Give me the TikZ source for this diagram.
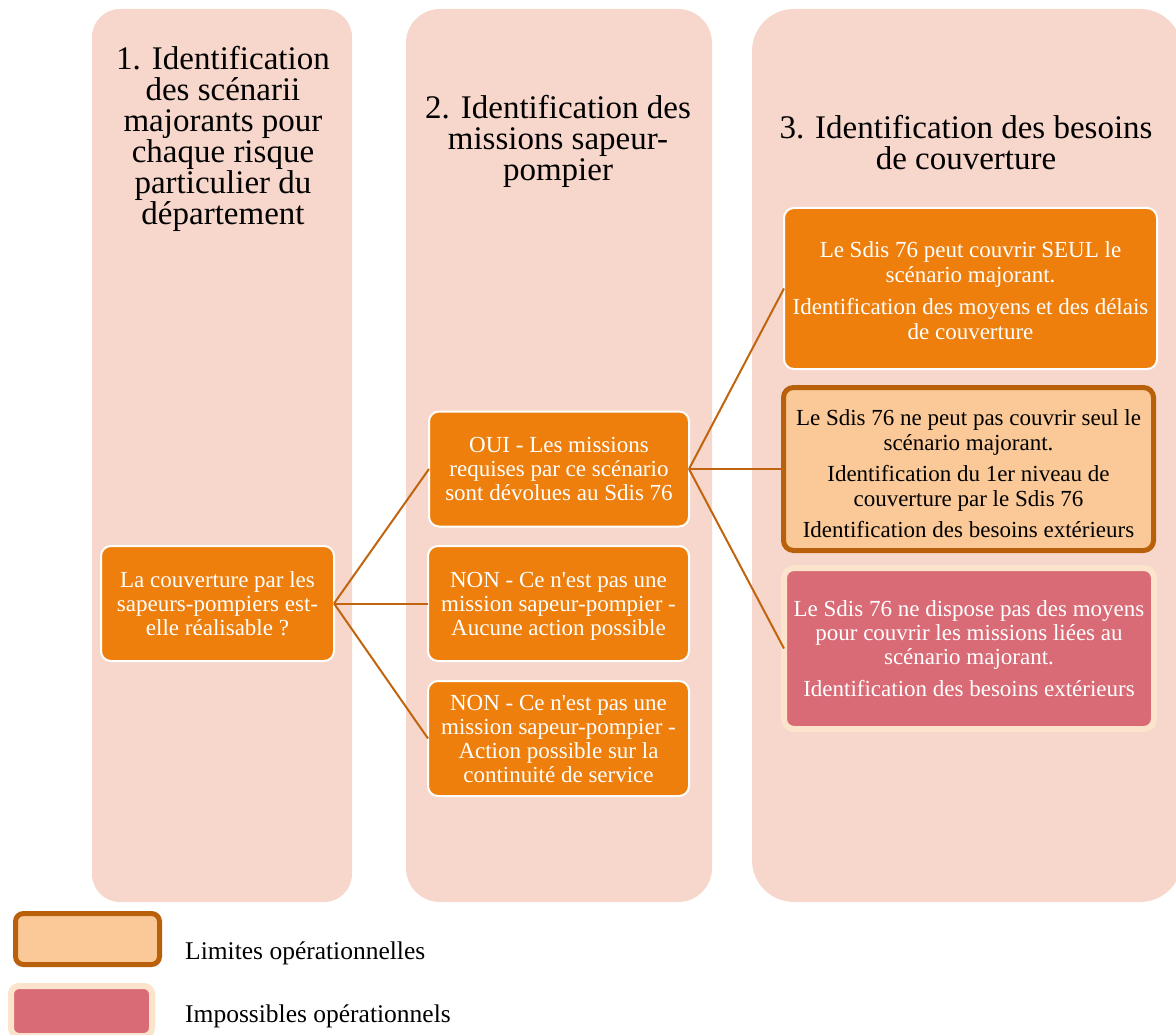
\documentclass[tikz,border=0pt]{standalone}
\usepackage{fontspec}
\setmainfont{Liberation Serif}
\definecolor{colbg}{HTML}{F7D7CB}
\definecolor{orangebox}{HTML}{EE7F0D}
\definecolor{lightorange}{HTML}{FAC997}
\definecolor{brownline}{HTML}{B9600B}
\definecolor{redbox}{HTML}{D96B76}
\definecolor{paleline}{HTML}{FCE3CB}
\definecolor{linkcol}{HTML}{C0640F}
\begin{document}
\begin{tikzpicture}[x=1pt,y=-1pt,
  colbox/.style={fill=colbg, draw=none, inner sep=0pt, outer sep=0pt},
  titletext/.style={align=center, inner sep=0pt, font=\fontsize{33}{31}\selectfont},
  orangenode/.style={fill=orangebox, draw=white, line width=2pt, rounded corners=10pt,
    align=center, text=white, inner sep=0pt, outer sep=0pt,
    font=\fontsize{23}{24}\selectfont},
  limitnode/.style={fill=lightorange, draw=brownline, line width=5pt, rounded corners=10pt,
    align=center, text=black, inner sep=0pt, outer sep=0pt,
    font=\fontsize{23}{25}\selectfont},
  impossnode/.style={fill=redbox, draw=paleline, line width=6pt, rounded corners=10pt,
    align=center, text=white, inner sep=0pt, outer sep=0pt,
    font=\fontsize{23}{24}\selectfont},
  link/.style={draw=linkcol, line width=2pt},
  legendtext/.style={anchor=base west, inner sep=0pt, font=\fontsize{25.5}{28}\selectfont}
]
\useasboundingbox (0,0) rectangle (1176,1035);
\clip (0,0) rectangle (1176,1035);

% columns
\node[colbox, minimum width=260pt, minimum height=893pt, rounded corners=28pt] (col1) at (222,455.5) {};
\node[colbox, minimum width=306pt, minimum height=893pt, rounded corners=34pt] (col2) at (559,455.5) {};
\node[colbox, minimum width=430pt, minimum height=893pt, rounded corners=42pt] (col3) at (967,455.5) {};

% titles
\node[titletext] (t1) at (223,138.5) {1. Identification\\des scénarii\\majorants pour\\chaque risque\\particulier du\\département};
\node[titletext] (t2) at (558,141.5) {2. Identification des\\missions sapeur-\\pompier};
\node[titletext] (t3) at (966,142.5) {3. Identification des besoins\\de couverture};

% nodes
\node[orangenode, minimum width=233pt, minimum height=115pt] (a) at (217.5,603.5)
  {La couverture par les\\sapeurs-pompiers est-\\elle réalisable ?};
\node[orangenode, minimum width=260pt, minimum height=115pt] (b) at (559,469)
  {OUI - Les missions\\requises par ce scénario\\sont dévolues au Sdis 76};
\node[orangenode, minimum width=261pt, minimum height=115pt] (c) at (558.5,603.5)
  {\rule{0pt}{20pt}NON - Ce n\textquotesingle est pas une\\mission sapeur-pompier -\\Aucune action possible};
\node[orangenode, minimum width=261pt, minimum height=115pt] (d) at (558.5,738.5)
  {NON - Ce n\textquotesingle est pas une\\mission sapeur-pompier -\\Action possible sur la\\continuité de service};

\node[orangenode, font=\fontsize{23}{25}\selectfont, minimum width=373pt, minimum height=161pt] (e) at (970.5,288.5)
  {\rule{0pt}{21pt}Le Sdis 76 peut couvrir SEUL le\\scénario majorant.\\[7pt]Identification des moyens et des délais\\de couverture};
\node[limitnode, minimum width=370pt, minimum height=163pt] (f) at (968.5,469)
  {\rule{0pt}{25pt}Le Sdis 76 ne peut pas couvrir seul le\\scénario majorant.\\[6pt]Identification du 1er niveau de\\couverture par le Sdis 76\\[6pt]Identification des besoins extérieurs};
\node[impossnode, minimum width=370pt, minimum height=161pt] (g) at (969,648.5)
  {Le Sdis 76 ne dispose pas des moyens\\pour couvrir les missions liées au\\scénario majorant.\\[8pt]Identification des besoins extérieurs};

% connectors
\draw[link] (a.east) -- (b.west);
\draw[link] (a.east) -- (c.west);
\draw[link] (a.east) -- (d.west);
\draw[link] (b.east) -- (e.west);
\draw[link] (b.east) -- (f.west);
\draw[link] (b.east) -- (g.west);

% legend
\node[fill=lightorange, draw=brownline, line width=5pt, rounded corners=8pt, inner sep=0pt,
  minimum width=144pt, minimum height=51pt] (leg1) at (87.5,939) {};
\node[fill=redbox, draw=paleline, line width=6pt, rounded corners=8pt, inner sep=0pt,
  minimum width=141pt, minimum height=50pt] (leg2) at (81.5,1011) {};
\node[legendtext] (l1) at (185,959) {Limites opérationnelles};
\node[legendtext] (l2) at (185,1022) {Impossibles opérationnels};
\end{tikzpicture}
\end{document}
